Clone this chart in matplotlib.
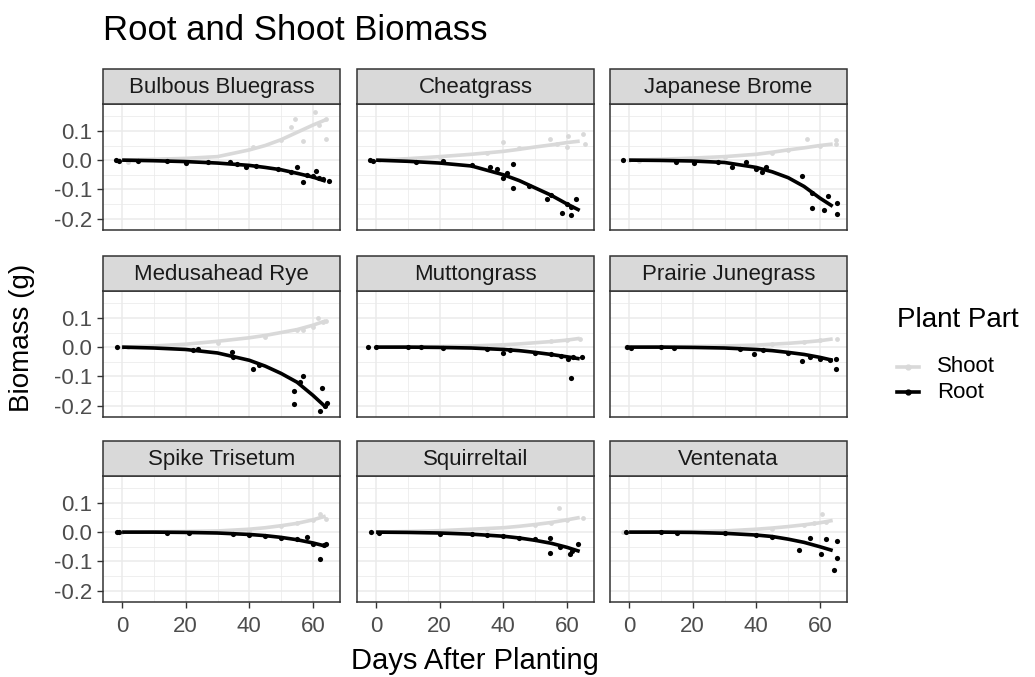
import matplotlib
matplotlib.use("Agg")
import matplotlib.pyplot as plt
from matplotlib.lines import Line2D
from matplotlib.patches import Rectangle

plt.rcParams['font.family'] = ['Liberation Sans', 'DejaVu Sans']

species = ["Bulbous Bluegrass", "Cheatgrass", "Japanese Brome",
           "Medusahead Rye", "Muttongrass", "Prairie Junegrass",
           "Spike Trisetum", "Squirreltail", "Ventenata"]

# Fitted trend values (g) at these days, per species
curve_days = [0, 10, 20, 30, 40, 45, 50, 55, 60, 64]
root_curve = [
    [0, -0.002, -0.005, -0.010, -0.018, -0.025, -0.033, -0.045, -0.058, -0.072],
    [0, -0.004, -0.010, -0.020, -0.050, -0.070, -0.095, -0.120, -0.150, -0.172],
    [0, -0.001, -0.003, -0.008, -0.025, -0.040, -0.060, -0.090, -0.130, -0.158],
    [0, -0.003, -0.008, -0.020, -0.045, -0.065, -0.090, -0.120, -0.165, -0.205],
    [0, 0.000, -0.001, -0.003, -0.008, -0.012, -0.018, -0.025, -0.033, -0.040],
    [0, 0.000, -0.001, -0.003, -0.008, -0.012, -0.018, -0.025, -0.035, -0.045],
    [0, 0.000, -0.001, -0.003, -0.008, -0.012, -0.018, -0.026, -0.037, -0.048],
    [0, -0.001, -0.003, -0.007, -0.014, -0.020, -0.028, -0.038, -0.052, -0.066],
    [0, 0.000, -0.001, -0.004, -0.010, -0.015, -0.024, -0.035, -0.050, -0.063],
]
shoot_curve = [
    [0, 0.003, 0.006, 0.012, 0.035, 0.050, 0.070, 0.095, 0.120, 0.138],
    [0, 0.005, 0.012, 0.020, 0.030, 0.037, 0.045, 0.052, 0.060, 0.065],
    [0, 0.003, 0.007, 0.012, 0.020, 0.027, 0.035, 0.042, 0.050, 0.055],
    [0, 0.004, 0.010, 0.020, 0.032, 0.040, 0.050, 0.060, 0.075, 0.090],
    [0, 0.001, 0.002, 0.004, 0.008, 0.011, 0.015, 0.019, 0.024, 0.030],
    [0, 0.001, 0.002, 0.004, 0.007, 0.010, 0.013, 0.017, 0.022, 0.028],
    [0, 0.001, 0.002, 0.004, 0.010, 0.015, 0.022, 0.030, 0.042, 0.055],
    [0, 0.002, 0.005, 0.010, 0.015, 0.020, 0.026, 0.033, 0.042, 0.050],
    [0, 0.001, 0.002, 0.004, 0.010, 0.014, 0.019, 0.025, 0.032, 0.040],
]

# Harvested plants: days after planting and biomass (root shown negative)
root_days = [
    [-2, -1, 5, 14, 20, 27, 34, 36, 39, 42, 49, 53, 55, 57, 58, 60, 61, 62, 63, 65],
    [-2, -1, 12.7, 21, 30, 35.8, 38, 40, 41, 43, 43, 48, 53.6, 55, 58.3, 60, 61.4, 61.4, 62.8],
    [-2, 14.7, 20.4, 28, 32.5, 36.7, 40, 41.9, 43, 54.5, 57.6, 57.6, 61.3, 62.4, 65.5, 65.5],
    [-1.7, 22.4, 24, 34.5, 35, 41.3, 43, 54, 53.9, 57, 56, 62.8, 62.3, 63.8, 64.5],
    [-2.5, 0, 10, 14, 21, 35, 40, 42, 50, 55, 58, 60.3, 61.4, 62, 64.6],
    [-0.5, 0.5, 10, 14, 35, 39.3, 42, 50, 54.5, 57, 60, 63, 65, 65],
    [-1.7, -1, 14, 21, 35, 40, 45, 50, 55, 58, 60, 62.3, 63.4, 64],
    [-1.5, 1, 20, 30, 35, 40, 45, 50, 54.6, 54.6, 57.8, 60.9, 61.5, 63.5],
    [-1, 10, 15, 30, 40, 45, 53.5, 57, 60.3, 61.9, 64.5, 65.2, 65.5],
]
root_vals = [
    [0, -0.002, -0.002, -0.004, -0.010, -0.008, -0.006, -0.012, -0.023, -0.020, -0.030, -0.040, -0.023, -0.076, -0.050, -0.055, -0.037, -0.060, -0.065, -0.071],
    [0, -0.003, -0.006, -0.003, -0.015, -0.022, -0.031, -0.060, -0.045, -0.014, -0.094, -0.090, -0.134, -0.120, -0.180, -0.150, -0.186, -0.160, -0.134],
    [0, -0.008, -0.010, -0.006, -0.022, -0.008, -0.030, -0.042, -0.025, -0.054, -0.114, -0.163, -0.171, -0.123, -0.148, -0.184],
    [0, -0.010, -0.008, -0.018, -0.035, -0.075, -0.060, -0.195, -0.149, -0.098, -0.120, -0.140, -0.217, -0.200, -0.190],
    [0, -0.001, -0.001, -0.001, -0.002, -0.005, -0.020, -0.010, -0.020, -0.025, -0.030, -0.040, -0.106, -0.035, -0.033],
    [0, -0.002, -0.001, -0.002, -0.005, -0.024, -0.010, -0.020, -0.047, -0.035, -0.040, -0.045, -0.075, -0.040],
    [0, -0.001, -0.002, -0.002, -0.005, -0.010, -0.012, -0.020, -0.025, -0.017, -0.040, -0.092, -0.045, -0.040],
    [0, -0.002, -0.005, -0.008, -0.010, -0.012, -0.020, -0.025, -0.020, -0.071, -0.050, -0.075, -0.065, -0.042],
    [0, -0.001, -0.002, -0.003, -0.010, -0.015, -0.060, -0.020, -0.075, -0.025, -0.129, -0.088, -0.029],
]
shoot_days = [
    [-1, 2, 20, 41, 50, 53, 54.5, 57, 60.7, 62, 64, 64],
    [1, 20, 35, 40, 45, 54.6, 57, 59.9, 60.4, 65, 65.6],
    [0, 3, 30, 45, 50, 56, 60, 65, 65],
    [0, 2, 30, 45, 55, 57, 60, 61.7, 63, 64],
    [0, 40, 55, 60, 64],
    [-1, 45, 55, 60, 65.2],
    [0, 40, 50, 55, 60, 62.3, 64],
    [0, 35, 50, 55, 57.6, 60, 65],
    [-2, 45, 55, 58, 60.6, 62],
]
shoot_vals = [
    [0, -0.005, 0.005, 0.044, 0.070, 0.114, 0.140, 0.067, 0.165, 0.120, 0.140, 0.072],
    [0, 0.010, 0.025, 0.061, 0.040, 0.072, 0.055, 0.044, 0.084, 0.090, 0.055],
    [0, -0.002, 0.010, 0.025, 0.035, 0.072, 0.050, 0.070, 0.054],
    [0, 0.002, 0.015, 0.035, 0.060, 0.058, 0.070, 0.101, 0.085, 0.090],
    [0, 0.008, 0.020, 0.025, 0.027],
    [0, 0.010, 0.018, 0.025, 0.027],
    [0, 0.005, 0.020, 0.030, 0.040, 0.061, 0.045],
    [0, 0.010, 0.025, 0.030, 0.084, 0.040, 0.050],
    [0, 0.010, 0.025, 0.030, 0.061, 0.035],
]

x_major = [0, 20, 40, 60]
x_minor = [10, 30, 50]
y_major = [-0.2, -0.1, 0.0, 0.1]
y_minor = [-0.15, -0.05, 0.05, 0.15]
y_labels = ["-0.2", "-0.1", "0.0", "0.1"]

SHOOT_COL = "#D9D9D9"
ROOT_COL = "#000000"
FRAME = "#333333"
GRID = "#EBEBEB"
TICK_TXT = "#4D4D4D"

W, H = 1035, 677
fig = plt.figure(figsize=(W / 100, H / 100), dpi=100)

col_left = [103, 357, 610]
panel_w = 237
strip_top = [69, 256, 441]
strip_h = 35
panel_h = 126


def fig_rect(x, y, w, h):
    return [x / W, 1 - (y + h) / H, w / W, h / H]


for i, name in enumerate(species):
    r, c = divmod(i, 3)
    x0 = col_left[c]
    ptop = strip_top[r] + strip_h
    ax = fig.add_axes(fig_rect(x0, ptop, panel_w, panel_h))
    ax.set_xlim(-6, 68.5)
    ax.set_ylim(-0.239, 0.192)
    ax.set_xticks(x_major)
    ax.set_xticks(x_minor, minor=True)
    ax.set_yticks(y_major)
    ax.set_yticks(y_minor, minor=True)
    ax.grid(True, which="major", color=GRID, lw=1.1, zorder=0)
    ax.grid(True, which="minor", color=GRID, lw=0.55, zorder=0)
    ax.set_axisbelow(True)
    for s in ax.spines.values():
        s.set_color(FRAME)
        s.set_linewidth(1.1)
    ax.tick_params(which="minor", length=0)
    ax.tick_params(which="major", length=4, width=1.0, color=FRAME,
                   labelsize=16, labelcolor=TICK_TXT)
    ax.tick_params(axis="y", pad=4)
    ax.tick_params(axis="x", pad=6)
    if c == 0:
        ax.set_yticklabels(y_labels)
    else:
        ax.tick_params(axis="y", labelleft=False, length=0)
    if r == 2:
        ax.set_xticklabels([str(v) for v in x_major])
    else:
        ax.tick_params(axis="x", labelbottom=False, length=0)

    # shoot first, root on top
    ax.plot(curve_days, shoot_curve[i], color=SHOOT_COL, lw=2.6,
            solid_capstyle="butt", zorder=2)
    ax.scatter(shoot_days[i], shoot_vals[i], s=12, color=SHOOT_COL,
               lw=0, zorder=2)
    ax.plot(curve_days, root_curve[i], color=ROOT_COL, lw=2.6,
            solid_capstyle="butt", zorder=3)
    ax.scatter(root_days[i], root_vals[i], s=14, color=ROOT_COL,
               lw=0, zorder=3)

    # facet strip
    sax = fig.add_axes(fig_rect(x0, strip_top[r], panel_w, strip_h))
    sax.set_xlim(0, 1)
    sax.set_ylim(0, 1)
    sax.axis("off")
    sax.add_patch(Rectangle((0, 0), 1, 1, facecolor="#D9D9D9",
                            edgecolor=FRAME, lw=1.1,
                            transform=sax.transAxes, clip_on=False))
    sax.text(0.5, 0.48, name, ha="center", va="center", fontsize=16,
             color="#1A1A1A")

# titles
fig.text(103 / W, 1 - 30 / H, "Root and Shoot Biomass", fontsize=25,
         ha="left", va="center", color="black")
fig.text(22 / W, 1 - 338 / H, "Biomass (g)", fontsize=20, rotation=90,
         ha="center", va="center", color="black")
fig.text(475 / W, 1 - 661 / H, "Days After Planting", fontsize=21,
         ha="center", va="center", color="black")

# legend
fig.text(897 / W, 1 - 320 / H, "Plant Part", fontsize=20,
         ha="left", va="center", color="black")
for yk, col, lab in [(367, SHOOT_COL, "Shoot"), (392, ROOT_COL, "Root")]:
    yy = 1 - yk / H
    fig.add_artist(Line2D([897 / W, 919 / W], [yy, yy], color=col, lw=2.6,
                          transform=fig.transFigure))
    fig.add_artist(Line2D([908 / W], [yy], marker="o", markersize=3.5,
                          color=col, lw=0, transform=fig.transFigure))
    fig.text(937 / W, yy, lab, fontsize=16, ha="left", va="center",
             color="black")

fig.savefig("out.png", dpi=100, facecolor="white")
